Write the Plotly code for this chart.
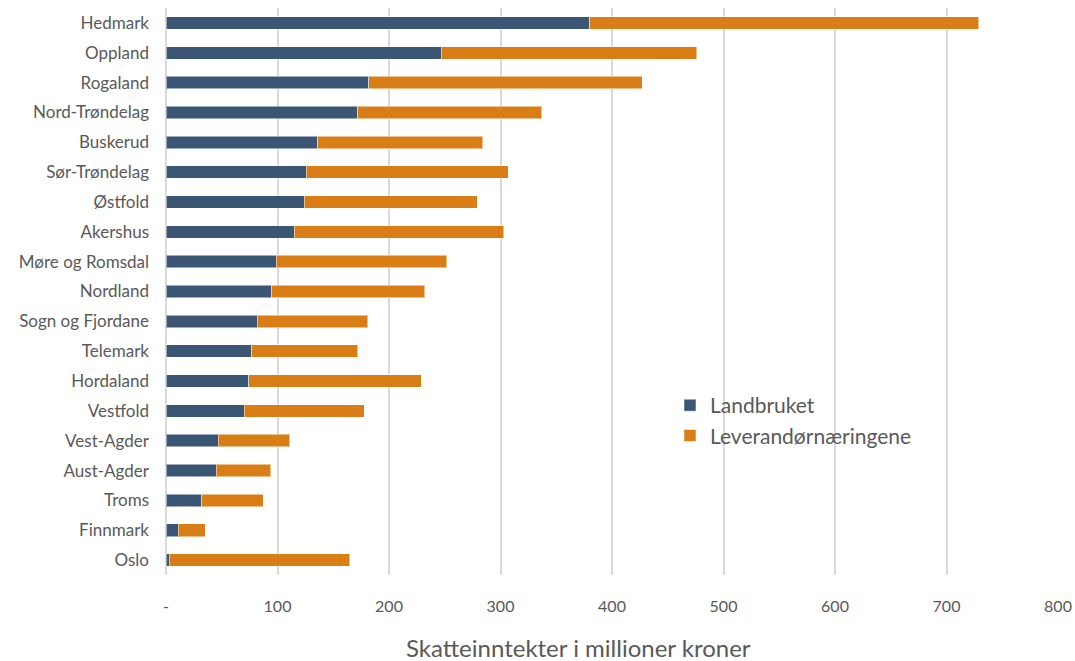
import plotly.graph_objects as go

fylker = ["Hedmark", "Oppland", "Rogaland", "Nord-Trøndelag", "Buskerud", "Sør-Trøndelag",
          "Østfold", "Akershus", "Møre og Romsdal", "Nordland", "Sogn og Fjordane", "Telemark",
          "Hordaland", "Vestfold", "Vest-Agder", "Aust-Agder", "Troms", "Finnmark", "Oslo"]
landbruket = [380, 247, 182, 172, 136, 126, 124, 115, 99, 95, 82, 77, 74, 70, 47, 45, 32, 11, 3]
totalt = [729, 476, 427, 337, 284, 307, 279, 303, 252, 232, 181, 172, 229, 178, 111, 94, 87, 35, 165]
leverandor = [t - l for t, l in zip(totalt, landbruket)]

tick_vals = [0, 100, 200, 300, 400, 500, 600, 700, 800]
tick_text = ["-", "100", "200", "300", "400", "500", "600", "700", "800"]
x_title = "Skatteinntekter i millioner kroner"

FONT = "Lato, 'Open Sans', sans-serif"
GREY = "#595959"

fig = go.Figure()
fig.add_trace(go.Bar(y=fylker, x=landbruket, orientation="h", name="Landbruket",
                     legendgroup="a",
                     marker=dict(color="#3a5674", line=dict(color="rgba(255,255,255,0.5)", width=1))))
fig.add_trace(go.Bar(y=fylker, x=leverandor, orientation="h", name="Leverandørnæringene",
                     legendgroup="b",
                     marker=dict(color="#d97e17", line=dict(color="rgba(255,255,255,0.5)", width=1))))

fig.update_layout(
    barmode="stack",
    bargap=0.58,
    width=1075, height=661,
    margin=dict(l=166, r=17, t=8, b=86),
    paper_bgcolor="white", plot_bgcolor="white",
    font=dict(family=FONT, color=GREY, size=15),
    legend=dict(x=0.565, y=0.335, xanchor="left", yanchor="top",
                font=dict(size=21, color=GREY), traceorder="normal",
                tracegroupgap=11, bgcolor="rgba(0,0,0,0)", itemwidth=30),
    xaxis=dict(range=[0, 800], tickvals=tick_vals, ticktext=tick_text,
               showgrid=True, gridcolor="#d9d9d9", gridwidth=1.5,
               zeroline=True, zerolinecolor="#d9d9d9", zerolinewidth=1.5,
               showline=False, automargin=False,
               tickfont=dict(size=16, color=GREY), ticklabelstandoff=20),
    yaxis=dict(categoryorder="array", categoryarray=fylker, autorange="reversed",
               tickfont=dict(size=17, color=GREY), ticklabelstandoff=16,
               showgrid=False, showline=False, automargin=False),
    annotations=[dict(text=x_title, xref="paper", yref="paper", x=0.463, y=-0.127,
                      xanchor="center", yanchor="middle", showarrow=False,
                      font=dict(size=24, color=GREY))],
)

fig.write_html("out.html", config={"displayModeBar": False},
               post_script="document.body.style.margin='0px';document.body.style.overflow='hidden';")
